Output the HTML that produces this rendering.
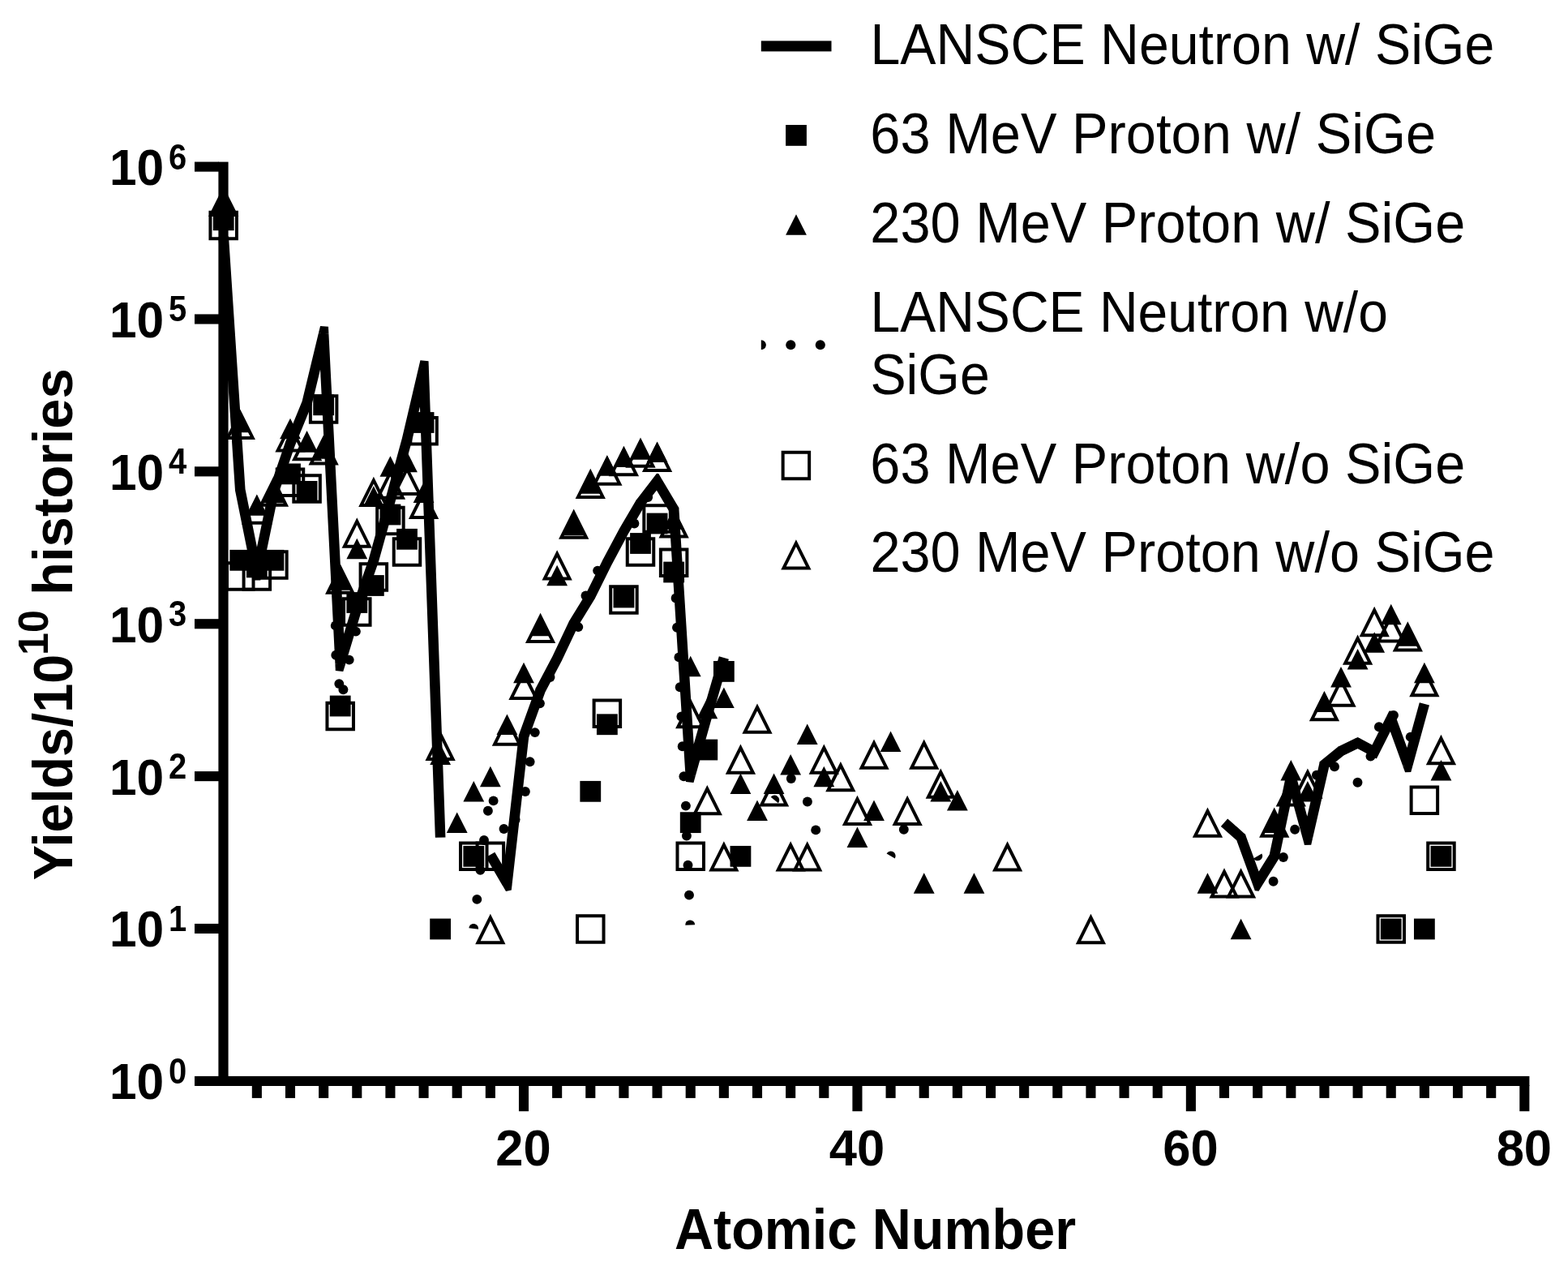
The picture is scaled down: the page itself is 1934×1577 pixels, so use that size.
<!DOCTYPE html>
<html lang="en"><head><meta charset="utf-8"><title>Yields vs Atomic Number</title>
<style>html,body{margin:0;padding:0;background:#fff}svg{display:block}text{fill:#000}</style></head>
<body><svg width="1934" height="1577" viewBox="0 0 1934 1577" fill="#000" stroke="none">
<rect x="0" y="0" width="1934" height="1577" fill="#fff"/>
<g id="axes">
<rect x="269.40" y="199.60" width="12.20" height="1139.40"/>
<rect x="240.00" y="1326.90" width="1646.40" height="12.10"/>
<rect x="240.00" y="1138.95" width="30.00" height="12.10"/>
<rect x="240.00" y="951.07" width="30.00" height="12.10"/>
<rect x="240.00" y="763.19" width="30.00" height="12.10"/>
<rect x="240.00" y="575.31" width="30.00" height="12.10"/>
<rect x="240.00" y="387.43" width="30.00" height="12.10"/>
<rect x="240.00" y="199.55" width="30.00" height="12.10"/>
<rect x="310.80" y="1338.00" width="12.10" height="15.90"/>
<rect x="351.94" y="1338.00" width="12.10" height="15.90"/>
<rect x="393.09" y="1338.00" width="12.10" height="15.90"/>
<rect x="434.23" y="1338.00" width="12.10" height="15.90"/>
<rect x="475.37" y="1338.00" width="12.10" height="15.90"/>
<rect x="516.52" y="1338.00" width="12.10" height="15.90"/>
<rect x="557.66" y="1338.00" width="12.10" height="15.90"/>
<rect x="598.81" y="1338.00" width="12.10" height="15.90"/>
<rect x="639.95" y="1338.00" width="12.10" height="32.20"/>
<rect x="681.09" y="1338.00" width="12.10" height="15.90"/>
<rect x="722.24" y="1338.00" width="12.10" height="15.90"/>
<rect x="763.38" y="1338.00" width="12.10" height="15.90"/>
<rect x="804.53" y="1338.00" width="12.10" height="15.90"/>
<rect x="845.67" y="1338.00" width="12.10" height="15.90"/>
<rect x="886.81" y="1338.00" width="12.10" height="15.90"/>
<rect x="927.96" y="1338.00" width="12.10" height="15.90"/>
<rect x="969.10" y="1338.00" width="12.10" height="15.90"/>
<rect x="1010.25" y="1338.00" width="12.10" height="15.90"/>
<rect x="1051.39" y="1338.00" width="12.10" height="32.20"/>
<rect x="1092.53" y="1338.00" width="12.10" height="15.90"/>
<rect x="1133.68" y="1338.00" width="12.10" height="15.90"/>
<rect x="1174.82" y="1338.00" width="12.10" height="15.90"/>
<rect x="1215.97" y="1338.00" width="12.10" height="15.90"/>
<rect x="1257.11" y="1338.00" width="12.10" height="15.90"/>
<rect x="1298.25" y="1338.00" width="12.10" height="15.90"/>
<rect x="1339.40" y="1338.00" width="12.10" height="15.90"/>
<rect x="1380.54" y="1338.00" width="12.10" height="15.90"/>
<rect x="1421.69" y="1338.00" width="12.10" height="15.90"/>
<rect x="1462.83" y="1338.00" width="12.10" height="32.20"/>
<rect x="1503.97" y="1338.00" width="12.10" height="15.90"/>
<rect x="1545.12" y="1338.00" width="12.10" height="15.90"/>
<rect x="1586.26" y="1338.00" width="12.10" height="15.90"/>
<rect x="1627.41" y="1338.00" width="12.10" height="15.90"/>
<rect x="1668.55" y="1338.00" width="12.10" height="15.90"/>
<rect x="1709.69" y="1338.00" width="12.10" height="15.90"/>
<rect x="1750.84" y="1338.00" width="12.10" height="15.90"/>
<rect x="1791.98" y="1338.00" width="12.10" height="15.90"/>
<rect x="1833.13" y="1338.00" width="12.10" height="15.90"/>
<rect x="1874.27" y="1338.00" width="12.10" height="32.20"/>
</g>
<g id="ticklabels" font-family="'Liberation Sans',Arial,Helvetica,sans-serif" font-weight="bold">
<text transform="translate(202.20,1355.28) scale(1.0000,1.0350)" font-size="60.5" text-anchor="end">10</text>
<text transform="translate(208.00,1335.88) scale(1.0000,1.1000)" font-size="40.0" text-anchor="start">0</text>
<text transform="translate(202.20,1167.40) scale(1.0000,1.0350)" font-size="60.5" text-anchor="end">10</text>
<text transform="translate(208.00,1148.00) scale(1.0000,1.1000)" font-size="40.0" text-anchor="start">1</text>
<text transform="translate(202.20,979.52) scale(1.0000,1.0350)" font-size="60.5" text-anchor="end">10</text>
<text transform="translate(208.00,960.12) scale(1.0000,1.1000)" font-size="40.0" text-anchor="start">2</text>
<text transform="translate(202.20,791.64) scale(1.0000,1.0350)" font-size="60.5" text-anchor="end">10</text>
<text transform="translate(208.00,772.24) scale(1.0000,1.1000)" font-size="40.0" text-anchor="start">3</text>
<text transform="translate(202.20,603.76) scale(1.0000,1.0350)" font-size="60.5" text-anchor="end">10</text>
<text transform="translate(208.00,584.36) scale(1.0000,1.1000)" font-size="40.0" text-anchor="start">4</text>
<text transform="translate(202.20,415.88) scale(1.0000,1.0350)" font-size="60.5" text-anchor="end">10</text>
<text transform="translate(208.00,396.48) scale(1.0000,1.1000)" font-size="40.0" text-anchor="start">5</text>
<text transform="translate(202.20,228.00) scale(1.0000,1.0350)" font-size="60.5" text-anchor="end">10</text>
<text transform="translate(208.00,208.60) scale(1.0000,1.1000)" font-size="40.0" text-anchor="start">6</text>
<text transform="translate(645.50,1437.30) scale(1.0000,1.0350)" font-size="61.5" text-anchor="middle">20</text>
<text transform="translate(1056.94,1437.30) scale(1.0000,1.0350)" font-size="61.5" text-anchor="middle">40</text>
<text transform="translate(1468.38,1437.30) scale(1.0000,1.0350)" font-size="61.5" text-anchor="middle">60</text>
<text transform="translate(1879.82,1437.30) scale(1.0000,1.0350)" font-size="61.5" text-anchor="middle">80</text>
<text transform="translate(1079.50,1540.20) scale(1.0000,1.0700)" font-size="66.5" text-anchor="middle">Atomic Number</text>
<text transform="translate(88.90,1085.30) rotate(-90) scale(0.9745,1.0400)" font-size="66.5" text-anchor="start">Yields/10</text>
<text transform="translate(58.90,807.90) rotate(-90) scale(1.0000,1.0300)" font-size="50.0" text-anchor="start">10</text>
<text transform="translate(88.90,454.20) rotate(-90) scale(1.0100,1.0400)" font-size="66.5" text-anchor="end">histories</text>
</g>
<g id="legend" font-family="'Liberation Sans',Arial,Helvetica,sans-serif">
<text transform="translate(1073.40,78.90) scale(1.0000,1.0550)" font-size="66.3" text-anchor="start">LANSCE Neutron w/ SiGe</text>
<text transform="translate(1073.36,188.80) scale(1.0075,1.0550)" font-size="66.3" text-anchor="start">63 MeV Proton w/ SiGe</text>
<text transform="translate(1073.37,299.00) scale(1.0060,1.0550)" font-size="66.3" text-anchor="start">230 MeV Proton w/ SiGe</text>
<text transform="translate(1073.42,408.80) scale(0.9960,1.0550)" font-size="66.3" text-anchor="start">LANSCE Neutron w/o</text>
<text transform="translate(1073.40,486.40) scale(1.0000,1.0550)" font-size="66.3" text-anchor="start">SiGe</text>
<text transform="translate(1073.37,596.20) scale(1.0060,1.0550)" font-size="66.3" text-anchor="start">63 MeV Proton w/o SiGe</text>
<text transform="translate(1073.38,705.30) scale(1.0050,1.0550)" font-size="66.3" text-anchor="start">230 MeV Proton w/o SiGe</text>
</g>
<g id="legendsym">
<rect x="938.80" y="50.40" width="86.70" height="13.00"/>
<rect x="969.10" y="154.00" width="25.80" height="25.80"/>
<polygon points="982.00,264.25 994.90,289.75 969.10,289.75"/>
<path fill-rule="evenodd" d="M963.65,555.75h36.50v36.50h-36.50z M967.65,559.75h28.50v28.50h-28.50z"/>
<path fill-rule="evenodd" d="M981.90,665.15 L1000.55,702.45 L963.25,702.45z M981.90,674.09 L994.08,698.45 L969.72,698.45z"/>
<clipPath id="lc"><rect x="938.8" y="410" width="86.7" height="30"/></clipPath>
<g clip-path="url(#lc)">
<circle cx="938.8" cy="425.2" r="6.05"/>
<circle cx="975.3" cy="425.2" r="6.05"/>
<circle cx="1011.8" cy="425.2" r="6.05"/>
</g></g>
<g id="line">
<polyline fill="none" stroke="#000" stroke-width="12.6" stroke-linejoin="bevel" stroke-linecap="butt" points="275.70,291.60 296.27,604.00 316.84,706.00 337.42,607.00 357.99,547.00 378.56,497.00 399.13,411.80 419.70,818.10 440.28,750.00 460.85,691.00 481.42,617.00 501.99,542.00 522.56,454.30 543.14,1032.60"/>
<polygon points="296.27,604.00 289.99,604.41 290.01,604.83 290.10,605.25"/>
<polygon points="316.84,706.00 310.67,707.25 312.33,715.49 321.30,715.51 323.01,707.28"/>
<polygon points="337.42,607.00 331.25,605.72 331.33,605.33 331.46,604.96"/>
<polygon points="357.99,547.00 352.03,544.96 352.09,544.78 352.16,544.60"/>
<polygon points="378.56,497.00 384.39,499.40 384.57,498.95 384.68,498.48"/>
<polygon points="399.13,411.80 393.01,410.32 395.05,401.88 404.98,402.81 405.42,411.48"/>
<polygon points="419.70,818.10 413.41,818.42 413.84,826.96 423.26,828.10 425.73,819.92"/>
<polygon points="440.28,750.00 434.25,748.18 434.28,748.05 434.33,747.93"/>
<polygon points="460.85,691.00 466.80,693.07 466.86,692.88 466.92,692.69"/>
<polygon points="481.42,617.00 487.49,618.69 487.49,618.68 487.50,618.67"/>
<polygon points="501.99,542.00 508.07,543.67 508.10,543.55 508.13,543.44"/>
<polygon points="522.56,454.30 516.43,452.86 518.43,444.35 528.55,445.34 528.86,454.08"/>
<polyline fill="none" stroke="#000" stroke-width="12.6" stroke-linejoin="bevel" stroke-linecap="butt" points="604.85,1053.85 625.42,1088.94 646.00,908.00 666.57,851.00 687.14,812.00 707.71,768.50 728.28,735.00 748.86,693.50 769.43,655.00 790.00,620.00 810.57,593.40 831.14,628.00 851.72,955.00 872.29,882.00 892.86,811.00"/>
<polygon points="625.42,1088.94 619.99,1092.12 623.99,1098.95 630.79,1097.51 631.68,1089.65"/>
<polygon points="646.00,908.00 639.74,907.29 639.82,906.56 640.07,905.86"/>
<polygon points="666.57,851.00 660.64,848.86 660.79,848.45 661.00,848.06"/>
<polygon points="687.14,812.00 692.71,814.94 692.78,814.82 692.84,814.69"/>
<polygon points="707.71,768.50 702.02,765.81 702.16,765.50 702.34,765.20"/>
<polygon points="728.28,735.00 733.65,738.30 733.80,738.05 733.93,737.80"/>
<polygon points="748.86,693.50 743.21,690.70 743.25,690.62 743.30,690.53"/>
<polygon points="769.43,655.00 763.87,652.03 763.93,651.92 764.00,651.81"/>
<polygon points="790.00,620.00 784.57,616.81 784.77,616.46 785.02,616.15"/>
<polygon points="810.57,593.40 805.59,589.55 810.00,583.85 812.31,583.99 815.99,590.18"/>
<polygon points="831.14,628.00 836.56,624.78 837.34,626.09 837.43,627.60"/>
<polygon points="851.72,955.00 845.43,955.40 845.97,963.94 855.46,964.95 857.78,956.71"/>
<polygon points="872.29,882.00 866.22,880.29 866.23,880.27 866.24,880.25"/>
<polyline fill="none" stroke="#000" stroke-width="12.6" stroke-linejoin="bevel" stroke-linecap="butt" points="1510.02,1014.16 1530.59,1032.37 1551.16,1088.94 1571.74,1055.85 1592.31,957.60 1612.88,1032.37 1633.45,942.72 1654.02,926.00 1674.60,916.00 1695.17,927.00 1715.74,886.16 1736.31,942.72 1756.88,867.95"/>
<polygon points="1530.59,1032.37 1534.77,1027.66 1535.97,1028.72 1536.51,1030.22"/>
<polygon points="1551.16,1088.94 1545.24,1091.09 1547.81,1098.14 1552.55,1098.63 1556.51,1092.26"/>
<polygon points="1571.74,1055.85 1577.09,1059.18 1577.67,1058.23 1577.90,1057.14"/>
<polygon points="1592.31,957.60 1586.14,956.31 1587.83,948.23 1596.19,947.97 1598.38,955.93"/>
<polygon points="1612.88,1032.37 1606.81,1034.04 1608.98,1041.96 1617.18,1041.78 1619.02,1033.78"/>
<polygon points="1633.45,942.72 1627.31,941.31 1627.80,939.20 1629.48,937.83"/>
<polygon points="1654.02,926.00 1650.05,921.11 1650.62,920.65 1651.27,920.33"/>
<polygon points="1674.60,916.00 1671.84,910.33 1674.73,908.93 1677.57,910.44"/>
<polygon points="1695.17,927.00 1692.20,932.56 1697.89,935.60 1700.79,929.83"/>
<polygon points="1715.74,886.16 1710.11,883.32 1713.54,876.51 1719.05,876.84 1721.66,884.01"/>
<polygon points="1736.31,942.72 1730.39,944.88 1733.11,952.36 1740.27,952.07 1742.39,944.39"/>
</g>
<g id="dots">
<circle cx="413.80" cy="771.40" r="5.95"/>
<circle cx="438.90" cy="778.60" r="5.95"/>
<circle cx="414.30" cy="807.70" r="5.95"/>
<circle cx="430.70" cy="813.60" r="5.95"/>
<circle cx="418.30" cy="843.10" r="5.95"/>
<circle cx="423.40" cy="850.30" r="5.95"/>
<circle cx="588.30" cy="1108.90" r="5.95"/>
<circle cx="592.40" cy="1072.70" r="5.95"/>
<circle cx="597.00" cy="1036.00" r="5.95"/>
<circle cx="601.90" cy="999.80" r="5.95"/>
<circle cx="608.60" cy="987.40" r="5.95"/>
<circle cx="621.50" cy="1022.00" r="5.95"/>
<circle cx="635.60" cy="1010.50" r="5.95"/>
<circle cx="647.90" cy="976.00" r="5.95"/>
<circle cx="653.60" cy="939.30" r="5.95"/>
<circle cx="659.80" cy="903.10" r="5.95"/>
<circle cx="737.10" cy="703.60" r="5.95"/>
<circle cx="722.50" cy="734.50" r="5.95"/>
<circle cx="713.30" cy="773.10" r="5.95"/>
<circle cx="678.50" cy="835.00" r="5.95"/>
<circle cx="833.60" cy="737.50" r="5.95"/>
<circle cx="835.00" cy="773.70" r="5.95"/>
<circle cx="782.40" cy="645.50" r="5.95"/>
<circle cx="799.20" cy="613.10" r="5.95"/>
<circle cx="837.40" cy="810.40" r="5.95"/>
<circle cx="838.70" cy="847.30" r="5.95"/>
<circle cx="840.40" cy="883.50" r="5.95"/>
<circle cx="841.70" cy="920.30" r="5.95"/>
<circle cx="843.40" cy="957.20" r="5.95"/>
<circle cx="665.90" cy="867.20" r="5.95"/>
<circle cx="845.90" cy="993.60" r="5.95"/>
<circle cx="846.90" cy="1030.50" r="5.95"/>
<circle cx="848.50" cy="1066.70" r="5.95"/>
<circle cx="850.00" cy="1103.60" r="5.95"/>
<circle cx="975.80" cy="960.00" r="5.95"/>
<circle cx="995.90" cy="988.50" r="5.95"/>
<circle cx="1006.20" cy="1023.40" r="5.95"/>
<circle cx="1114.80" cy="1022.80" r="5.95"/>
<circle cx="1570.60" cy="1086.80" r="5.95"/>
<circle cx="1582.90" cy="1057.00" r="5.95"/>
<circle cx="1597.10" cy="1022.80" r="5.95"/>
<circle cx="1623.90" cy="955.70" r="5.95"/>
<circle cx="1646.00" cy="945.30" r="5.95"/>
<circle cx="1674.50" cy="964.80" r="5.95"/>
<circle cx="1690.50" cy="932.50" r="5.95"/>
<circle cx="1700.90" cy="896.20" r="5.95"/>
<circle cx="1719.00" cy="882.00" r="5.95"/>
<circle cx="1739.70" cy="908.60" r="5.95"/>
<path transform="translate(584.20,1145.00) rotate(-83.7)" d="M0,-5.95 A5.95,5.95 0 0 1 0,5.95 Z"/>
<path transform="translate(851.20,1140.40) rotate(-92.3)" d="M0,-5.95 A5.95,5.95 0 0 1 0,5.95 Z"/>
<path transform="translate(955.30,986.50) rotate(-50.7)" d="M0,-5.95 A5.95,5.95 0 0 1 0,5.95 Z"/>
<path transform="translate(1098.70,1055.40) rotate(-59.8)" d="M0,-5.95 A5.95,5.95 0 0 1 0,5.95 Z"/>
<path transform="translate(1551.20,1055.40) rotate(59.8)" d="M0,-5.95 A5.95,5.95 0 0 1 0,5.95 Z"/>
</g>
<g id="fs">
<rect x="262.80" y="258.40" width="25.80" height="25.80"/>
<rect x="283.37" y="677.90" width="25.80" height="25.80"/>
<rect x="303.94" y="686.50" width="25.80" height="25.80"/>
<rect x="324.52" y="677.90" width="25.80" height="25.80"/>
<rect x="345.09" y="571.50" width="25.80" height="25.80"/>
<rect x="365.66" y="593.00" width="25.80" height="25.80"/>
<rect x="386.23" y="486.40" width="25.80" height="25.80"/>
<rect x="406.80" y="857.60" width="25.80" height="25.80"/>
<rect x="427.38" y="730.10" width="25.80" height="25.80"/>
<rect x="447.95" y="709.10" width="25.80" height="25.80"/>
<rect x="468.52" y="621.60" width="25.80" height="25.80"/>
<rect x="489.09" y="651.90" width="25.80" height="25.80"/>
<rect x="509.66" y="508.10" width="25.80" height="25.80"/>
<rect x="530.24" y="1132.60" width="25.80" height="25.80"/>
<rect x="571.38" y="1042.95" width="25.80" height="25.80"/>
<rect x="715.38" y="962.91" width="25.80" height="25.80"/>
<rect x="735.96" y="880.36" width="25.80" height="25.80"/>
<rect x="756.53" y="723.60" width="25.80" height="25.80"/>
<rect x="777.10" y="657.10" width="25.80" height="25.80"/>
<rect x="797.67" y="632.60" width="25.80" height="25.80"/>
<rect x="818.24" y="692.60" width="25.80" height="25.80"/>
<rect x="838.82" y="1001.26" width="25.80" height="25.80"/>
<rect x="859.39" y="911.61" width="25.80" height="25.80"/>
<rect x="879.96" y="815.01" width="25.80" height="25.80"/>
<rect x="900.53" y="1042.95" width="25.80" height="25.80"/>
<rect x="1702.84" y="1132.60" width="25.80" height="25.80"/>
<rect x="1743.98" y="1132.60" width="25.80" height="25.80"/>
<rect x="1764.56" y="1042.95" width="25.80" height="25.80"/>
</g><g id="ft">
<polygon points="275.70,234.25 288.60,259.75 262.80,259.75"/>
<polygon points="296.27,507.85 309.17,533.35 283.37,533.35"/>
<polygon points="316.84,610.25 329.74,635.75 303.94,635.75"/>
<polygon points="337.42,594.75 350.32,620.25 324.52,620.25"/>
<polygon points="357.99,515.85 370.89,541.35 345.09,541.35"/>
<polygon points="378.56,532.25 391.46,557.75 365.66,557.75"/>
<polygon points="399.13,540.25 412.03,565.75 386.23,565.75"/>
<polygon points="419.70,702.25 432.60,727.75 406.80,727.75"/>
<polygon points="440.28,663.85 453.18,689.35 427.38,689.35"/>
<polygon points="460.85,599.25 473.75,624.75 447.95,624.75"/>
<polygon points="481.42,562.15 494.32,587.65 468.52,587.65"/>
<polygon points="501.99,556.75 514.89,582.25 489.09,582.25"/>
<polygon points="522.56,594.55 535.46,620.05 509.66,620.05"/>
<polygon points="543.14,917.39 556.04,942.89 530.24,942.89"/>
<polygon points="563.71,1001.41 576.61,1026.91 550.81,1026.91"/>
<polygon points="584.28,963.06 597.18,988.56 571.38,988.56"/>
<polygon points="604.85,944.85 617.75,970.35 591.95,970.35"/>
<polygon points="625.42,880.51 638.32,906.01 612.52,906.01"/>
<polygon points="646.00,816.84 658.90,842.34 633.10,842.34"/>
<polygon points="666.57,758.75 679.47,784.25 653.67,784.25"/>
<polygon points="687.14,696.75 700.04,722.25 674.24,722.25"/>
<polygon points="707.71,634.65 720.61,660.15 694.81,660.15"/>
<polygon points="728.28,583.25 741.18,608.75 715.38,608.75"/>
<polygon points="748.86,561.25 761.76,586.75 735.96,586.75"/>
<polygon points="769.43,550.55 782.33,576.05 756.53,576.05"/>
<polygon points="790.00,541.25 802.90,566.75 777.10,566.75"/>
<polygon points="810.57,544.45 823.47,569.95 797.67,569.95"/>
<polygon points="831.14,627.25 844.04,652.75 818.24,652.75"/>
<polygon points="851.72,808.76 864.62,834.26 838.82,834.26"/>
<polygon points="872.29,860.83 885.19,886.33 859.39,886.33"/>
<polygon points="892.86,847.42 905.76,872.92 879.96,872.92"/>
<polygon points="913.43,953.45 926.33,978.95 900.53,978.95"/>
<polygon points="934.00,986.54 946.90,1012.04 921.10,1012.04"/>
<polygon points="954.58,953.45 967.48,978.95 941.68,978.95"/>
<polygon points="975.15,929.97 988.05,955.47 962.25,955.47"/>
<polygon points="995.72,892.47 1008.62,917.97 982.82,917.97"/>
<polygon points="1016.29,944.85 1029.19,970.35 1003.39,970.35"/>
<polygon points="1057.44,1019.62 1070.34,1045.12 1044.54,1045.12"/>
<polygon points="1078.01,986.54 1090.91,1012.04 1065.11,1012.04"/>
<polygon points="1098.58,901.55 1111.48,927.05 1085.68,927.05"/>
<polygon points="1139.72,1076.19 1152.62,1101.69 1126.82,1101.69"/>
<polygon points="1160.30,963.06 1173.20,988.56 1147.40,988.56"/>
<polygon points="1180.87,973.96 1193.77,999.46 1167.97,999.46"/>
<polygon points="1201.44,1076.19 1214.34,1101.69 1188.54,1101.69"/>
<polygon points="1489.45,1076.19 1502.35,1101.69 1476.55,1101.69"/>
<polygon points="1530.59,1132.75 1543.49,1158.25 1517.69,1158.25"/>
<polygon points="1571.74,1001.41 1584.64,1026.91 1558.84,1026.91"/>
<polygon points="1592.31,937.07 1605.21,962.57 1579.41,962.57"/>
<polygon points="1612.88,963.06 1625.78,988.56 1599.98,988.56"/>
<polygon points="1633.45,852.52 1646.35,878.02 1620.55,878.02"/>
<polygon points="1654.02,822.11 1666.92,847.61 1641.12,847.61"/>
<polygon points="1674.60,800.01 1687.50,825.51 1661.70,825.51"/>
<polygon points="1695.17,779.35 1708.07,804.85 1682.27,804.85"/>
<polygon points="1715.74,744.84 1728.64,770.34 1702.84,770.34"/>
<polygon points="1736.31,771.18 1749.21,796.68 1723.41,796.68"/>
<polygon points="1756.88,816.84 1769.78,842.34 1743.98,842.34"/>
<polygon points="1777.46,937.07 1790.36,962.57 1764.56,962.57"/>
</g><g id="os">
<path fill-rule="evenodd" d="M257.45,259.85h36.50v36.50h-36.50z M261.45,263.85h28.50v28.50h-28.50z"/>
<path fill-rule="evenodd" d="M278.02,692.35h36.50v36.50h-36.50z M282.02,696.35h28.50v28.50h-28.50z"/>
<path fill-rule="evenodd" d="M298.59,692.35h36.50v36.50h-36.50z M302.59,696.35h28.50v28.50h-28.50z"/>
<path fill-rule="evenodd" d="M319.17,678.25h36.50v36.50h-36.50z M323.17,682.25h28.50v28.50h-28.50z"/>
<path fill-rule="evenodd" d="M339.74,576.45h36.50v36.50h-36.50z M343.74,580.45h28.50v28.50h-28.50z"/>
<path fill-rule="evenodd" d="M360.31,584.25h36.50v36.50h-36.50z M364.31,588.25h28.50v28.50h-28.50z"/>
<path fill-rule="evenodd" d="M380.88,486.35h36.50v36.50h-36.50z M384.88,490.35h28.50v28.50h-28.50z"/>
<path fill-rule="evenodd" d="M401.45,864.75h36.50v36.50h-36.50z M405.45,868.75h28.50v28.50h-28.50z"/>
<path fill-rule="evenodd" d="M422.03,736.25h36.50v36.50h-36.50z M426.03,740.25h28.50v28.50h-28.50z"/>
<path fill-rule="evenodd" d="M442.60,693.25h36.50v36.50h-36.50z M446.60,697.25h28.50v28.50h-28.50z"/>
<path fill-rule="evenodd" d="M463.17,623.75h36.50v36.50h-36.50z M467.17,627.75h28.50v28.50h-28.50z"/>
<path fill-rule="evenodd" d="M483.74,662.15h36.50v36.50h-36.50z M487.74,666.15h28.50v28.50h-28.50z"/>
<path fill-rule="evenodd" d="M504.31,513.05h36.50v36.50h-36.50z M508.31,517.05h28.50v28.50h-28.50z"/>
<path fill-rule="evenodd" d="M566.03,1037.60h36.50v36.50h-36.50z M570.03,1041.60h28.50v28.50h-28.50z"/>
<path fill-rule="evenodd" d="M586.60,1037.60h36.50v36.50h-36.50z M590.60,1041.60h28.50v28.50h-28.50z"/>
<path fill-rule="evenodd" d="M710.03,1127.25h36.50v36.50h-36.50z M714.03,1131.25h28.50v28.50h-28.50z"/>
<path fill-rule="evenodd" d="M730.61,861.38h36.50v36.50h-36.50z M734.61,865.38h28.50v28.50h-28.50z"/>
<path fill-rule="evenodd" d="M751.18,721.15h36.50v36.50h-36.50z M755.18,725.15h28.50v28.50h-28.50z"/>
<path fill-rule="evenodd" d="M771.75,662.25h36.50v36.50h-36.50z M775.75,666.25h28.50v28.50h-28.50z"/>
<path fill-rule="evenodd" d="M792.32,621.15h36.50v36.50h-36.50z M796.32,625.15h28.50v28.50h-28.50z"/>
<path fill-rule="evenodd" d="M812.89,675.45h36.50v36.50h-36.50z M816.89,679.45h28.50v28.50h-28.50z"/>
<path fill-rule="evenodd" d="M833.47,1037.60h36.50v36.50h-36.50z M837.47,1041.60h28.50v28.50h-28.50z"/>
<path fill-rule="evenodd" d="M1697.49,1127.25h36.50v36.50h-36.50z M1701.49,1131.25h28.50v28.50h-28.50z"/>
<path fill-rule="evenodd" d="M1738.63,968.46h36.50v36.50h-36.50z M1742.63,972.46h28.50v28.50h-28.50z"/>
<path fill-rule="evenodd" d="M1759.21,1037.60h36.50v36.50h-36.50z M1763.21,1041.60h28.50v28.50h-28.50z"/>
</g><g id="ot">
<path fill-rule="evenodd" d="M275.70,229.65 L294.35,266.95 L257.05,266.95z M275.70,238.59 L287.88,262.95 L263.52,262.95z"/>
<path fill-rule="evenodd" d="M296.27,504.65 L314.92,541.95 L277.62,541.95z M296.27,513.59 L308.45,537.95 L284.09,537.95z"/>
<path fill-rule="evenodd" d="M316.84,609.55 L335.49,646.85 L298.19,646.85z M316.84,618.49 L329.02,642.85 L304.67,642.85z"/>
<path fill-rule="evenodd" d="M337.42,587.35 L356.07,624.65 L318.77,624.65z M337.42,596.29 L349.59,620.65 L325.24,620.65z"/>
<path fill-rule="evenodd" d="M357.99,520.15 L376.64,557.45 L339.34,557.45z M357.99,529.09 L370.17,553.45 L345.81,553.45z"/>
<path fill-rule="evenodd" d="M378.56,530.95 L397.21,568.25 L359.91,568.25z M378.56,539.89 L390.74,564.25 L366.38,564.25z"/>
<path fill-rule="evenodd" d="M399.13,536.25 L417.78,573.55 L380.48,573.55z M399.13,545.19 L411.31,569.55 L386.95,569.55z"/>
<path fill-rule="evenodd" d="M419.70,695.35 L438.35,732.65 L401.05,732.65z M419.70,704.29 L431.88,728.65 L407.53,728.65z"/>
<path fill-rule="evenodd" d="M440.28,638.35 L458.93,675.65 L421.63,675.65z M440.28,647.29 L452.45,671.65 L428.10,671.65z"/>
<path fill-rule="evenodd" d="M460.85,587.65 L479.50,624.95 L442.20,624.95z M460.85,596.59 L473.03,620.95 L448.67,620.95z"/>
<path fill-rule="evenodd" d="M481.42,578.35 L500.07,615.65 L462.77,615.65z M481.42,587.29 L493.60,611.65 L469.24,611.65z"/>
<path fill-rule="evenodd" d="M501.99,573.75 L520.64,611.05 L483.34,611.05z M501.99,582.69 L514.17,607.05 L489.81,607.05z"/>
<path fill-rule="evenodd" d="M522.56,602.75 L541.21,640.05 L503.91,640.05z M522.56,611.69 L534.74,636.05 L510.39,636.05z"/>
<path fill-rule="evenodd" d="M543.14,900.60 L561.79,937.90 L524.49,937.90z M543.14,909.54 L555.31,933.90 L530.96,933.90z"/>
<path fill-rule="evenodd" d="M604.85,1126.85 L623.50,1164.15 L586.20,1164.15z M604.85,1135.79 L617.03,1160.15 L592.67,1160.15z"/>
<path fill-rule="evenodd" d="M625.42,882.39 L644.07,919.69 L606.77,919.69z M625.42,891.33 L637.60,915.69 L613.25,915.69z"/>
<path fill-rule="evenodd" d="M646.00,825.82 L664.65,863.12 L627.35,863.12z M646.00,834.77 L658.17,859.12 L633.82,859.12z"/>
<path fill-rule="evenodd" d="M666.57,755.75 L685.22,793.05 L647.92,793.05z M666.57,764.69 L678.75,789.05 L654.39,789.05z"/>
<path fill-rule="evenodd" d="M687.14,678.25 L705.79,715.55 L668.49,715.55z M687.14,687.19 L699.32,711.55 L674.96,711.55z"/>
<path fill-rule="evenodd" d="M707.71,627.45 L726.36,664.75 L689.06,664.75z M707.71,636.39 L719.89,660.75 L695.53,660.75z"/>
<path fill-rule="evenodd" d="M728.28,577.65 L746.93,614.95 L709.63,614.95z M728.28,586.59 L740.46,610.95 L716.11,610.95z"/>
<path fill-rule="evenodd" d="M748.86,561.45 L767.51,598.75 L730.21,598.75z M748.86,570.39 L761.03,594.75 L736.68,594.75z"/>
<path fill-rule="evenodd" d="M769.43,549.85 L788.08,587.15 L750.78,587.15z M769.43,558.79 L781.61,583.15 L757.25,583.15z"/>
<path fill-rule="evenodd" d="M790.00,539.55 L808.65,576.85 L771.35,576.85z M790.00,548.49 L802.18,572.85 L777.82,572.85z"/>
<path fill-rule="evenodd" d="M810.57,544.65 L829.22,581.95 L791.92,581.95z M810.57,553.59 L822.75,577.95 L798.39,577.95z"/>
<path fill-rule="evenodd" d="M831.14,626.15 L849.79,663.45 L812.49,663.45z M831.14,635.09 L843.32,659.45 L818.97,659.45z"/>
<path fill-rule="evenodd" d="M851.72,860.98 L870.37,898.28 L833.07,898.28z M851.72,869.92 L863.89,894.28 L839.54,894.28z"/>
<path fill-rule="evenodd" d="M872.29,968.06 L890.94,1005.36 L853.64,1005.36z M872.29,977.00 L884.47,1001.36 L860.11,1001.36z"/>
<path fill-rule="evenodd" d="M892.86,1037.20 L911.51,1074.50 L874.21,1074.50z M892.86,1046.14 L905.04,1070.50 L880.68,1070.50z"/>
<path fill-rule="evenodd" d="M913.43,917.54 L932.08,954.84 L894.78,954.84z M913.43,926.48 L925.61,950.84 L901.25,950.84z"/>
<path fill-rule="evenodd" d="M934.00,867.51 L952.65,904.81 L915.35,904.81z M934.00,876.45 L946.18,900.81 L921.83,900.81z"/>
<path fill-rule="evenodd" d="M954.58,957.16 L973.23,994.46 L935.93,994.46z M954.58,966.10 L966.75,990.46 L942.40,990.46z"/>
<path fill-rule="evenodd" d="M975.15,1037.20 L993.80,1074.50 L956.50,1074.50z M975.15,1046.14 L987.33,1070.50 L962.97,1070.50z"/>
<path fill-rule="evenodd" d="M995.72,1037.20 L1014.37,1074.50 L977.07,1074.50z M995.72,1046.14 L1007.90,1070.50 L983.54,1070.50z"/>
<path fill-rule="evenodd" d="M1016.29,917.54 L1034.94,954.84 L997.64,954.84z M1016.29,926.48 L1028.47,950.84 L1004.11,950.84z"/>
<path fill-rule="evenodd" d="M1036.86,938.95 L1055.51,976.25 L1018.21,976.25z M1036.86,947.89 L1049.04,972.25 L1024.69,972.25z"/>
<path fill-rule="evenodd" d="M1057.44,980.64 L1076.09,1017.94 L1038.79,1017.94z M1057.44,989.58 L1069.61,1013.94 L1045.26,1013.94z"/>
<path fill-rule="evenodd" d="M1078.01,911.49 L1096.66,948.79 L1059.36,948.79z M1078.01,920.44 L1090.19,944.79 L1065.83,944.79z"/>
<path fill-rule="evenodd" d="M1119.15,980.64 L1137.80,1017.94 L1100.50,1017.94z M1119.15,989.58 L1131.33,1013.94 L1106.97,1013.94z"/>
<path fill-rule="evenodd" d="M1139.72,911.49 L1158.37,948.79 L1121.07,948.79z M1139.72,920.44 L1151.90,944.79 L1127.55,944.79z"/>
<path fill-rule="evenodd" d="M1160.30,947.55 L1178.95,984.85 L1141.65,984.85z M1160.30,956.49 L1172.47,980.85 L1148.12,980.85z"/>
<path fill-rule="evenodd" d="M1242.58,1037.20 L1261.23,1074.50 L1223.93,1074.50z M1242.58,1046.14 L1254.76,1070.50 L1230.41,1070.50z"/>
<path fill-rule="evenodd" d="M1345.44,1126.85 L1364.09,1164.15 L1326.79,1164.15z M1345.44,1135.79 L1357.62,1160.15 L1333.27,1160.15z"/>
<path fill-rule="evenodd" d="M1489.45,995.51 L1508.10,1032.81 L1470.80,1032.81z M1489.45,1004.46 L1501.63,1028.81 L1477.27,1028.81z"/>
<path fill-rule="evenodd" d="M1510.02,1070.29 L1528.67,1107.59 L1491.37,1107.59z M1510.02,1079.23 L1522.20,1103.59 L1497.84,1103.59z"/>
<path fill-rule="evenodd" d="M1530.59,1070.29 L1549.24,1107.59 L1511.94,1107.59z M1530.59,1079.23 L1542.77,1103.59 L1518.41,1103.59z"/>
<path fill-rule="evenodd" d="M1571.74,995.51 L1590.39,1032.81 L1553.09,1032.81z M1571.74,1004.46 L1583.91,1028.81 L1559.56,1028.81z"/>
<path fill-rule="evenodd" d="M1592.31,957.16 L1610.96,994.46 L1573.66,994.46z M1592.31,966.10 L1604.49,990.46 L1580.13,990.46z"/>
<path fill-rule="evenodd" d="M1612.88,947.55 L1631.53,984.85 L1594.23,984.85z M1612.88,956.49 L1625.06,980.85 L1600.70,980.85z"/>
<path fill-rule="evenodd" d="M1633.45,852.07 L1652.10,889.37 L1614.80,889.37z M1633.45,861.01 L1645.63,885.37 L1621.27,885.37z"/>
<path fill-rule="evenodd" d="M1654.02,834.42 L1672.67,871.72 L1635.37,871.72z M1654.02,843.37 L1666.20,867.72 L1641.85,867.72z"/>
<path fill-rule="evenodd" d="M1674.60,782.52 L1693.25,819.82 L1655.95,819.82z M1674.60,791.47 L1686.77,815.82 L1662.42,815.82z"/>
<path fill-rule="evenodd" d="M1695.17,747.85 L1713.82,785.15 L1676.52,785.15z M1695.17,756.79 L1707.35,781.15 L1682.99,781.15z"/>
<path fill-rule="evenodd" d="M1715.74,755.24 L1734.39,792.54 L1697.09,792.54z M1715.74,764.18 L1727.92,788.54 L1703.56,788.54z"/>
<path fill-rule="evenodd" d="M1736.31,766.26 L1754.96,803.56 L1717.66,803.56z M1736.31,775.20 L1748.49,799.56 L1724.13,799.56z"/>
<path fill-rule="evenodd" d="M1756.88,821.84 L1775.53,859.14 L1738.23,859.14z M1756.88,830.79 L1769.06,855.14 L1744.71,855.14z"/>
<path fill-rule="evenodd" d="M1777.46,905.86 L1796.11,943.16 L1758.81,943.16z M1777.46,914.81 L1789.63,939.16 L1765.28,939.16z"/>
</g>
</svg></body></html>
